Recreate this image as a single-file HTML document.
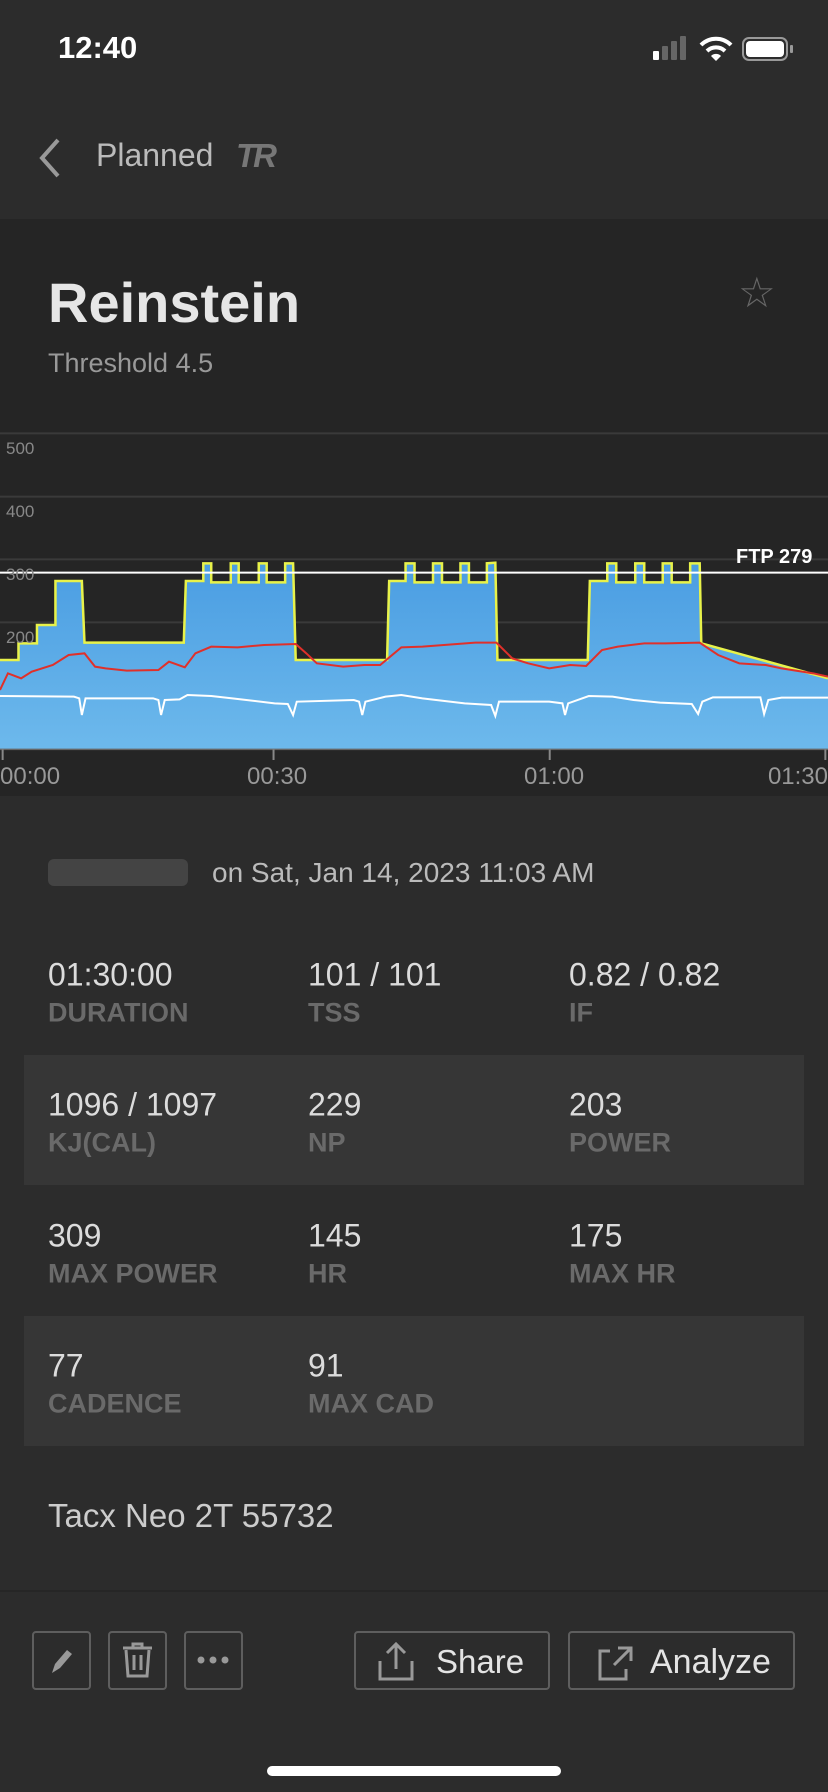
<!DOCTYPE html>
<html><head><meta charset="utf-8">
<style>
*{margin:0;padding:0;box-sizing:border-box}
body{width:828px;height:1792px;background:#2c2c2c;font-family:"Liberation Sans",sans-serif;position:relative;overflow:hidden;color:#ddd}
.a{position:absolute;white-space:nowrap}
.v{font-size:32px;color:#dcdcdc;transform:translateY(-50%)}
.l{font-size:27px;font-weight:bold;color:#6a6a6a;transform:translateY(-50%)}
.btn{position:absolute;border:2px solid #5e5e5e;border-radius:4px;top:1631px;height:59px}
.tk{position:absolute;top:777px;font-size:24px;color:#999;transform:translateY(-50%)}
</style></head><body>
<div class="a" style="left:58px;top:30px;font-size:31px;font-weight:bold;color:#fff">12:40</div>
<div class="a" style="left:653px;top:51px;width:6px;height:9px;background:#fff;border-radius:1px"></div>
<div class="a" style="left:662px;top:46px;width:6px;height:14px;background:#666;border-radius:1px"></div>
<div class="a" style="left:671px;top:41px;width:6px;height:19px;background:#666;border-radius:1px"></div>
<div class="a" style="left:680px;top:36px;width:6px;height:24px;background:#666;border-radius:1px"></div>
<svg class="a" style="left:699px;top:36px" width="34" height="26" viewBox="0 0 34 26"><path d="M2,9 A21,21 0 0 1 32,9" stroke="#fff" stroke-width="4" fill="none"/><path d="M8,15 A13,13 0 0 1 26,15" stroke="#fff" stroke-width="4" fill="none"/><path d="M12,20 L17,25 L22,20 A7,7 0 0 0 12,20Z" fill="#fff"/></svg>
<div class="a" style="left:742px;top:37px;width:46px;height:24px;border:2px solid #999;border-radius:7px"></div>
<div class="a" style="left:746px;top:41px;width:38px;height:16px;background:#fff;border-radius:4px"></div>
<div class="a" style="left:790px;top:45px;width:3px;height:8px;background:#999;border-radius:1px"></div>
<svg class="a" style="left:34px;top:137px" width="30" height="42"><path d="M24,3 L8,21 L24,39" stroke="#999" stroke-width="4" fill="none"/></svg>
<div class="a" style="left:96px;top:137px;font-size:32px;color:#bbb">Planned</div>
<div class="a" style="left:236px;top:137px;font-size:33px;font-weight:bold;font-style:italic;color:#777;letter-spacing:-3px">TR</div>
<div class="a" style="left:0;top:219px;width:828px;height:577px;background:#252525"></div>
<div class="a" style="left:48px;top:270px;font-size:56px;font-weight:bold;color:#e6e6e6">Reinstein</div>
<div class="a" style="left:48px;top:348px;font-size:27px;color:#999">Threshold 4.5</div>
<div class="a" style="left:738px;top:268px;font-size:42px;color:#666">☆</div>
<svg class="a" style="left:0;top:420px" width="828" height="380" viewBox="0 0 1568 1140" preserveAspectRatio="none">
<defs><linearGradient id="g" x1="0" y1="0" x2="0" y2="1"><stop offset="0" stop-color="#4a9de2"/><stop offset="1" stop-color="#6db9ec"/></linearGradient></defs>
<g stroke="#3a3a3a" stroke-width="2">
<line x1="0" y1="40" x2="1568" y2="40" vector-effect="non-scaling-stroke"/>
<line x1="0" y1="230" x2="1568" y2="230" vector-effect="non-scaling-stroke"/>
<line x1="0" y1="418" x2="1568" y2="418" vector-effect="non-scaling-stroke"/>
<line x1="0" y1="607" x2="1568" y2="607" vector-effect="non-scaling-stroke"/>
</g>
<path d="M0,720 L35,720 L35,670 L70,670 L70,615 L105,615 L105,483 L155,483 L160,668 L348,668 L352,483 L385,483 L385,430 L400,430 L400,487 L437,487 L437,430 L452,430 L452,487 L490,487 L490,430 L505,430 L505,487 L540,487 L540,430 L555,430 L560,720 L733,720 L737,483 L768,483 L768,430 L785,430 L785,487 L820,487 L820,430 L837,430 L837,487 L872,487 L872,430 L888,430 L888,487 L922,487 L922,430 L938,428 L942,720 L1113,720 L1117,483 L1150,483 L1150,430 L1167,430 L1167,487 L1203,487 L1203,430 L1220,430 L1220,487 L1255,487 L1255,430 L1272,430 L1272,487 L1307,487 L1307,430 L1325,430 L1328,670 L1568,775 L1568,988 L0,988Z" fill="url(#g)"/>
<path d="M0,720 L35,720 L35,670 L70,670 L70,615 L105,615 L105,483 L155,483 L160,668 L348,668 L352,483 L385,483 L385,430 L400,430 L400,487 L437,487 L437,430 L452,430 L452,487 L490,487 L490,430 L505,430 L505,487 L540,487 L540,430 L555,430 L560,720 L733,720 L737,483 L768,483 L768,430 L785,430 L785,487 L820,487 L820,430 L837,430 L837,487 L872,487 L872,430 L888,430 L888,487 L922,487 L922,430 L938,428 L942,720 L1113,720 L1117,483 L1150,483 L1150,430 L1167,430 L1167,487 L1203,487 L1203,430 L1220,430 L1220,487 L1255,487 L1255,430 L1272,430 L1272,487 L1307,487 L1307,430 L1325,430 L1328,670 L1568,775" fill="none" stroke="#e8f24a" stroke-width="2.5" vector-effect="non-scaling-stroke"/>
<line x1="0" y1="458" x2="1568" y2="458" stroke="#fff" stroke-width="2" vector-effect="non-scaling-stroke"/>
<path d="M0,810 L15,760 L40,775 L60,755 L100,735 L130,705 L160,700 L180,740 L200,745 L240,752 L300,750 L320,725 L350,742 L370,700 L400,680 L450,682 L500,675 L560,672 L580,700 L600,730 L650,740 L690,735 L720,735 L760,682 L800,680 L900,668 L940,668 L970,715 L1000,730 L1040,745 L1080,735 L1110,738 L1140,690 L1170,680 L1220,670 L1260,670 L1325,668 L1360,705 L1400,730 L1450,735 L1480,745 L1540,760 L1568,770" fill="none" stroke="#e0302a" stroke-width="2" vector-effect="non-scaling-stroke"/>
<path d="M0,828 L140,830 L150,835 L155,885 L162,835 L290,835 L300,840 L305,885 L312,840 L340,838 L355,825 L400,828 L440,835 L520,850 L545,852 L555,885 L562,845 L670,840 L680,845 L686,885 L692,845 L730,830 L760,825 L800,835 L880,850 L930,855 L938,888 L945,845 L1040,845 L1065,850 L1070,885 L1076,850 L1115,828 L1160,830 L1200,840 L1250,848 L1310,852 L1322,882 L1330,845 L1350,832 L1440,832 L1447,882 L1455,840 L1480,833 L1568,833" fill="none" stroke="#fff" stroke-width="2" vector-effect="non-scaling-stroke"/>
<line x1="0" y1="988" x2="1568" y2="988" stroke="#666" stroke-width="1.5" vector-effect="non-scaling-stroke"/>
<g stroke="#888" stroke-width="2">
<line x1="5" y1="988" x2="5" y2="1020" vector-effect="non-scaling-stroke"/>
<line x1="518" y1="988" x2="518" y2="1020" vector-effect="non-scaling-stroke"/>
<line x1="1041" y1="988" x2="1041" y2="1020" vector-effect="non-scaling-stroke"/>
<line x1="1563" y1="988" x2="1563" y2="1020" vector-effect="non-scaling-stroke"/>
</g>
</svg>
<div class="a" style="left:6px;top:439px;font-size:17px;color:#888">500</div>
<div class="a" style="left:6px;top:502px;font-size:17px;color:#888">400</div>
<div class="a" style="left:6px;top:565px;font-size:17px;color:#888">300</div>
<div class="a" style="left:6px;top:628px;font-size:17px;color:#888">200</div>
<div class="a" style="left:736px;top:546px;font-size:20px;font-weight:bold;color:#fff">FTP 279</div>
<div class="tk" style="left:0">00:00</div>
<div class="tk" style="left:247px">00:30</div>
<div class="tk" style="left:524px">01:00</div>
<div class="tk" style="right:0">01:30</div>
<div class="a" style="left:48px;top:859px;width:140px;height:27px;background:#444;border-radius:6px"></div>
<div class="a" style="left:212px;top:873px;font-size:28px;color:#bbb;transform:translateY(-50%)">on Sat, Jan 14, 2023 11:03 AM</div>
<div class="a" style="left:24px;top:1055px;width:780px;height:130px;background:#363636"></div>
<div class="a" style="left:24px;top:1316px;width:780px;height:130px;background:#363636"></div>
<div class="a v" style="left:48px;top:975px">01:30:00</div><div class="a l" style="left:48px;top:1013px">DURATION</div>
<div class="a v" style="left:308px;top:975px">101 / 101</div><div class="a l" style="left:308px;top:1013px">TSS</div>
<div class="a v" style="left:569px;top:975px">0.82 / 0.82</div><div class="a l" style="left:569px;top:1013px">IF</div>
<div class="a v" style="left:48px;top:1105px">1096 / 1097</div><div class="a l" style="left:48px;top:1143px">KJ(CAL)</div>
<div class="a v" style="left:308px;top:1105px">229</div><div class="a l" style="left:308px;top:1143px">NP</div>
<div class="a v" style="left:569px;top:1105px">203</div><div class="a l" style="left:569px;top:1143px">POWER</div>
<div class="a v" style="left:48px;top:1236px">309</div><div class="a l" style="left:48px;top:1274px">MAX POWER</div>
<div class="a v" style="left:308px;top:1236px">145</div><div class="a l" style="left:308px;top:1274px">HR</div>
<div class="a v" style="left:569px;top:1236px">175</div><div class="a l" style="left:569px;top:1274px">MAX HR</div>
<div class="a v" style="left:48px;top:1366px">77</div><div class="a l" style="left:48px;top:1404px">CADENCE</div>
<div class="a v" style="left:308px;top:1366px">91</div><div class="a l" style="left:308px;top:1404px">MAX CAD</div>
<div class="a" style="left:48px;top:1516px;font-size:33px;color:#ccc;transform:translateY(-50%)">Tacx Neo 2T 55732</div>
<div class="a" style="left:0;top:1590px;width:828px;height:2px;background:#262626"></div>
<div class="btn" style="left:32px;width:59px"><svg width="55" height="55"><path d="M18,40 L21,31 L33,17 L38,21 L26,35Z" fill="#999"/></svg></div>
<div class="btn" style="left:108px;width:59px"><svg width="55" height="55"><path d="M13,15 H42 M23,15 V11 H32 V15 M16,17 L18,43 H37 L39,17 M24,22 V37 M31,22 V37" stroke="#999" stroke-width="3" fill="none"/></svg></div>
<div class="btn" style="left:184px;width:59px"><svg width="55" height="55"><circle cx="15" cy="27" r="3.5" fill="#999"/><circle cx="27" cy="27" r="3.5" fill="#999"/><circle cx="39" cy="27" r="3.5" fill="#999"/></svg></div>
<div class="btn" style="left:354px;width:196px"><svg class="a" style="left:20px;top:8px" width="40" height="42"><path d="M20,3 V28 M11,12 L20,3 L29,12 M4,20 V38 H36 V20" stroke="#999" stroke-width="3" fill="none"/></svg><div class="a" style="left:80px;top:10px;font-size:33px;color:#e4e4e4">Share</div></div>
<div class="btn" style="left:568px;width:227px"><svg class="a" style="left:26px;top:10px" width="40" height="40"><path d="M14,8 H4 V36 H30 V26 M18,22 L34,6 M22,5 H35 V18" stroke="#999" stroke-width="3" fill="none"/></svg><div class="a" style="left:80px;top:10px;font-size:34px;color:#e4e4e4">Analyze</div></div>
<div class="a" style="left:267px;top:1766px;width:294px;height:10px;background:#fff;border-radius:5px"></div>
</body></html>
